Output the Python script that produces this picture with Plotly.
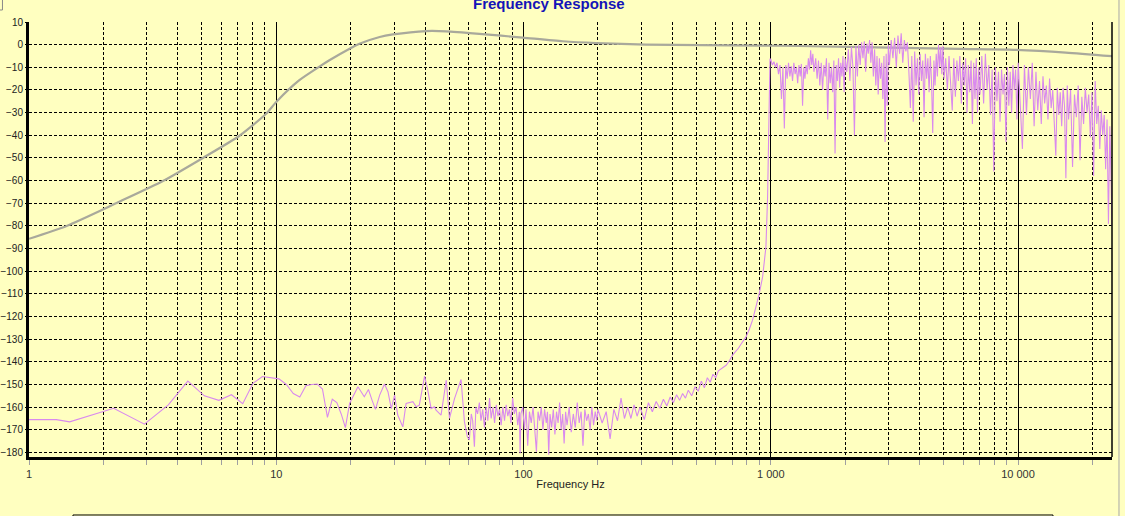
import plotly.graph_objects as go

# ---------------- data ----------------
gray_freq = [1, 1.42, 2.26, 3.48, 5.05, 7.1, 9.1, 10, 12.4, 15, 16.4, 19.8, 21.7, 26.2, 29.6,
             40.4, 48.6, 66.3, 99.3, 144, 196, 313, 528, 925, 1300, 2075, 5780, 9200, 15600, 24000]
gray_db = [-85.7, -80, -69.9, -60.2, -50, -40.2, -30.5, -25.3, -15.7, -9.6, -6.9, -1.8, 0.4, 3.4, 4.5,
           6.0, 5.9, 4.8, 3.1, 1.5, 0.7, 0.0, -0.2, -0.4, -0.6, -1.0, -1.9, -2.2, -3.5, -5.1]

# pink: 1 - 20 Hz
pink_a_f = [1.0, 1.29, 1.46, 2.2, 2.93, 3.66, 4.39, 5.12, 5.86, 6.59, 7.32, 8.05, 8.79, 9.52, 10.25,
            10.99, 11.72, 12.45, 13.18, 13.92, 14.65, 15.38, 16.11, 16.85, 17.58, 18.31, 19.04]
pink_a_db = [-165.5, -165.5, -166.5, -160.5, -167.5, -159, -148.5, -155, -157, -154.5, -158.5, -149.5,
             -146.5, -147, -147.5, -150, -154, -155.5, -150.5, -150, -149.8, -152, -164.5, -156.5,
             -158, -163, -169]

# pink: 20 - 127 Hz
pink_b_f = [19.8, 21.4, 22.7, 23.6, 24.4, 25.2, 26.2, 27.4, 28.3, 29.2, 30.1, 31.0, 32.5, 33.5, 35.7,
            36.8, 37.9, 39.8, 41.0, 42.3, 43.6, 44.3, 46.4, 47.8, 48.7, 50.2, 52.6, 55.9, 57.7, 59.3,
            60.4, 61.5, 62.3, 63.3, 64.2, 65.2, 66.3, 67.3, 68.4, 69.5, 70.6, 71.7, 72.9, 74.0, 75.2,
            76.4, 77.6, 78.8, 80.0, 81.2, 82.5, 83.8, 85.1, 86.4, 87.7, 89.0, 90.4, 91.8, 93.3, 94.8,
            96.2, 96.9, 97.6, 99.3, 100.8, 102.4, 104, 105.7, 107.5, 109.3, 111, 112.8, 114.5, 116.2,
            118, 119.8, 121.7, 123.6, 125, 126.5]
pink_b_db = [-158.4, -151.0, -155.4, -152.2, -156.9, -161.0, -154.7, -149.8, -153.2, -160.6, -154.7,
             -163.5, -168.7, -158.4, -157.6, -159.8, -159.1, -146.3, -152.5, -160.6, -159.8, -161.3,
             -163.5, -154, -148.1, -165, -156.2, -147.8, -166.5, -173.1,
             -174.5, -163, -166, -177.5, -160, -163, -158, -166, -161, -169, -160, -166, -156, -165, -160,
             -167, -159, -164, -161, -168, -160, -166, -159, -164, -161, -167, -156, -163, -160, -168,
             -162, -180.4, -163, -160, -170, -161, -177, -162, -167, -160, -172, -179.7, -162, -166,
             -160, -170, -161, -167, -162, -181]

# pink: 128 - 1000 Hz
pink_c_f = [128, 130, 132, 134, 136, 138, 140, 142, 144, 146, 148, 150, 153, 156, 159, 162, 165, 168,
            171, 174, 177, 180, 183, 186, 189, 192, 195, 198,
            200, 208, 216, 224, 232, 240, 248, 256, 264, 272, 280, 288, 296, 308, 320, 332, 344, 356,
            368, 380, 392, 404, 416, 428, 440, 452, 464, 479, 494, 509, 524, 539, 554, 569, 584, 599, 614,
            640, 660, 680, 701, 720, 740, 760, 794, 820, 844, 870, 898, 927, 956, 971, 980, 993]
pink_c_db = [-163, -169, -161, -172, -162, -167, -158, -170, -163, -176, -162, -168, -160, -171, -163,
             -169, -158, -167, -162, -177, -161, -166, -163, -170, -160, -168, -162, -166,
             -161, -167, -162, -174, -161, -166, -156, -165, -160, -165, -159, -164, -160, -165.5, -158,
             -162, -157.5, -160.5, -156.5, -159.5, -155.5, -158, -154.5, -157, -154, -156, -152.5, -155,
             -151, -153, -148.5, -151.5, -147, -149, -145.5, -147, -144,
             -142.5, -141.5, -139.5, -137, -135.5, -134, -132, -129, -125.5, -121.6, -116, -110, -102.5,
             -89.3, -67.2, -37.8, -6.2]

# pink: 1 kHz - 24 kHz
pink_d_f = [1000, 1015, 1030, 1045, 1060, 1075, 1090, 1105, 1120, 1135, 1150, 1165, 1180, 1195, 1210,
            1225, 1240, 1255, 1270, 1285, 1300, 1315, 1330, 1345, 1360, 1375, 1390, 1405, 1420, 1435,
            1450, 1465, 1480, 1495,
            1520, 1540, 1560, 1580, 1600, 1620, 1640, 1660, 1680, 1700, 1720, 1740, 1760, 1780, 1800,
            1820, 1840, 1860, 1880, 1900, 1920, 1940, 1960, 1980, 2000,
            2030, 2060, 2090, 2120, 2150, 2180, 2210, 2240, 2270, 2300, 2330, 2360, 2390, 2420, 2450,
            2480, 2510, 2540, 2570, 2600, 2630, 2660, 2690, 2720, 2750, 2780, 2810, 2840, 2870, 2900,
            2930, 2960, 2990, 3020,
            3070, 3120, 3170, 3220, 3270, 3320, 3370, 3420, 3470, 3520, 3570, 3620, 3670, 3720, 3770,
            3820, 3870, 3920, 3970, 4020, 4070, 4120, 4170, 4220, 4270, 4320, 4370, 4420, 4470, 4520,
            4570, 4620, 4670, 4720, 4770, 4820, 4870, 4920, 4970, 5020,
            5100, 5180, 5260, 5340, 5420, 5500, 5580, 5660, 5740, 5820, 5900, 5980, 6060, 6140, 6220,
            6300, 6380, 6460, 6540, 6620, 6700, 6780, 6860, 6940, 7020,
            7140, 7260, 7380, 7500, 7620, 7740, 7860, 7980, 8100, 8220, 8340, 8460, 8580, 8700, 8820,
            8940, 9060, 9180, 9300, 9420, 9540, 9660, 9780, 9900, 10020,
            10220, 10420, 10620, 10820, 11020, 11220, 11420, 11620, 11820, 12020, 12220, 12420, 12620,
            12820, 13020, 13220, 13420, 13620, 13820, 14020, 14220, 14420, 14620, 14820, 15020, 15220,
            15420, 15620, 15820, 16020,
            16320, 16620, 16920, 17220, 17520, 17820, 18120, 18420, 18720, 19020, 19320, 19620, 19920,
            20220, 20520, 20820, 21120, 21420, 21720, 22020, 22320, 22620, 22920, 23220, 23520, 23820,
            24000]
pink_d_db = [-6.5, -9, -7.5, -10, -8, -13, -9, -24, -10, -37, -9, -15, -8, -14, -9.5, -16, -8, -13, -10,
             -17, -9, -14, -8.5, -27, -10, -15, -9, -13, -6, -11, -2.5, -9, -4, -12,
             -6, -15, -7, -18, -8, -20, -9, -14, -6, -33, -8, -17, -10, -21, -7, -48, -9, -16, -6, -19,
             -8, -14, -5, -21, -6,
             -12, -2, -16, -1, -10, -40, -0.5, -14, 0, -9, 1, -6, 1.5, -12, 0.5, -4, 2, -8, 1, -14, -2,
             -18, -5, -22, -6, -15, -8, -24, -5, -43, -4, -27, 0, -9,
             2, -6, 3, -10, 4, -4, 5, -8, 2, -3, 1, -12, -28, -5, -34, -3, -18, -6, -22, -4, -16, -7,
             -32, -4, -15, -6, -21, -5, -16, -39, -7, -18, -4, -14, 0, -10, -1, -13, -0.5, -15,
             -6, -20, -5, -17, -29, -6, -23, -7, -16, -5, -26, -8, -18, -6, -30, -9, -21, -7, -35, -8,
             -24, -6, -30, -10, -22,
             -5, -26, -4, -20, -9, -31, -11, -56, -10, -25, -12, -34, -11, -22, -13, -43, -10, -27, -12,
             -30, -9, -20, -11, -33, -8,
             -28, -46, -9, -31, -10, -24, -8, -36, -12, -29, -16, -35, -14, -26, -18, -33, -15, -28, -20,
             -38, -49, -19, -31, -21, -36, -19, -27, -59, -18, -33,
             -20, -54, -22, -32, -18, -51, -23, -35, -19, -30, -22, -41, -21, -58, -16, -35, -27, -46,
             -29, -40, -31, -55, -33, -79, -36, -62, -80]

pink_freq = pink_a_f + pink_b_f + pink_c_f + pink_d_f
pink_db = pink_a_db + pink_b_db + pink_c_db + pink_d_db

x_major = [1, 10, 100, 1000, 10000]
x_major_text = ["1", "10", "100", "1 000", "10 000"]
x_minor = [m * d for d in (1, 10, 100, 1000) for m in range(2, 10)] + [20000]

title_text = "Frequency Response"
x_title = "Frequency Hz"

# ---------------- figure ----------------
BG = "#FFFFC0"
FONT = "Liberation Sans, Arial, sans-serif"

fig = go.Figure()
fig.add_trace(go.Scatter(x=gray_freq, y=gray_db, mode="lines",
                         line=dict(color="#A9A99B", width=2.2, shape="spline", smoothing=0.6),
                         hoverinfo="skip"))
fig.add_trace(go.Scatter(x=pink_freq, y=pink_db, mode="lines",
                         line=dict(color="#D98AEE", width=1.1),
                         hoverinfo="skip"))

fig.update_layout(
    width=1125, height=516,
    margin=dict(l=29, r=13, t=22, b=59, autoexpand=False),
    paper_bgcolor=BG, plot_bgcolor=BG,
    showlegend=False,
    font=dict(family=FONT, size=11, color="#222222"),
)

fig.update_xaxes(
    type="log", range=[0, 4.3802], automargin=False,
    tickmode="array", tickvals=x_major, ticktext=x_major_text,
    showgrid=True, gridcolor="black", gridwidth=1,
    ticks="outside", ticklen=5, tickcolor="#A0A0A0",
    showline=True, linecolor="black", linewidth=3,
    zeroline=False,
    tickfont=dict(family=FONT, size=11, color="#333333"),
    title=dict(text=x_title, font=dict(family=FONT, size=11, color="#222222"), standoff=2),
    minor=dict(tickmode="array", tickvals=x_minor, showgrid=True, gridcolor="black",
               griddash="3px,2px", gridwidth=1, ticks="outside", ticklen=5, tickcolor="#A0A0A0"),
)

fig.update_yaxes(
    range=[-182, 10], tick0=0, dtick=10, automargin=False,
    showgrid=True, gridcolor="black", gridwidth=1, griddash="3px,2px",
    ticks="outside", ticklen=1, tickcolor="black",
    showline=True, linecolor="black", linewidth=3,
    zeroline=False,
    tickfont=dict(family=FONT, size=10, color="#222222"),
)

fig.add_annotation(text="<b>" + title_text + "</b>", xref="paper", yref="paper",
                   x=0.4801, y=1.0666, xanchor="center", yanchor="top", showarrow=False,
                   font=dict(family=FONT, size=15, color="#1414B8"))

# frame pieces
fig.add_shape(type="line", xref="paper", yref="paper", x0=1, x1=1, y0=0, y1=1,
              line=dict(color="black", width=1.5))
fig.add_shape(type="line", xref="paper", yref="paper", x0=1.00646, x1=1.00646, y0=-0.14, y1=1.06,
              line=dict(color="#A8A8A8", width=1))
fig.add_shape(type="rect", xref="paper", yref="paper", x0=0.0406, x1=0.9455, y0=-0.1333, y1=-0.2,
              line=dict(color="black", width=1))
fig.add_shape(type="line", xref="paper", yref="paper", x0=-0.0245, x1=-0.0245, y0=1.0276, y1=1.06,
              line=dict(color="#888888", width=1))
fig.add_shape(type="line", xref="paper", yref="paper", x0=-0.03, x1=-0.0245, y0=1.0276, y1=1.0276,
              line=dict(color="#888888", width=1))

fig.write_html("out.html", config={"displayModeBar": False},
               post_script="document.body.style.margin='0';document.body.style.overflow='hidden';")
